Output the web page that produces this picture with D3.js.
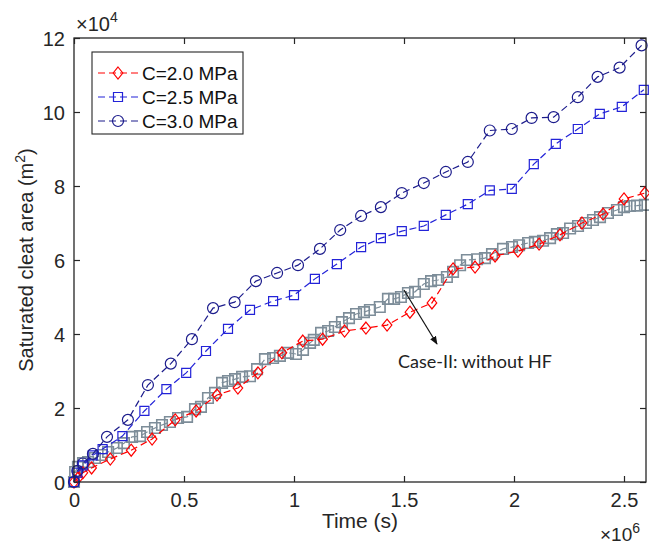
<!DOCTYPE html>
<html>
<head>
<meta charset="utf-8">
<script src="https://cdn.jsdelivr.net/npm/d3@7"></script>
<style>
  body { margin: 0; background: #fff; overflow: hidden; }
  svg { display: block; font-family: "Liberation Sans", Arial, sans-serif; }
</style>
</head>
<body>
<svg class="visSVG"></svg>
<script>
const svgWidth = 649;
const svgHeight = 545;

// time in units of 1e6 s, area in units of 1e4 m^2
const tC20 = [0, 0.02, 0.04, 0.08, 0.165, 0.26, 0.355, 0.46, 0.555, 0.65, 0.745, 0.836, 0.945, 1.04, 1.13, 1.23, 1.327, 1.423, 1.527, 1.627, 1.723, 1.823, 1.914, 2.018, 2.114, 2.209, 2.309, 2.405, 2.5, 2.595];
const aC20 = [0, 0.12, 0.25, 0.38, 0.62, 0.86, 1.16, 1.68, 1.92, 2.35, 2.54, 2.95, 3.49, 3.81, 3.86, 4.08, 4.16, 4.24, 4.59, 4.84, 5.76, 5.81, 6.11, 6.24, 6.43, 6.68, 7.0, 7.24, 7.65, 7.81];

const tC25 = [0, 0.015, 0.04, 0.085, 0.13, 0.22, 0.32, 0.42, 0.51, 0.60, 0.70, 0.80, 0.905, 1.0, 1.095, 1.195, 1.305, 1.395, 1.49, 1.59, 1.69, 1.79, 1.89, 1.99, 2.09, 2.19, 2.29, 2.39, 2.49, 2.59];
const aC25 = [0, 0.25, 0.45, 0.72, 0.89, 1.24, 1.92, 2.51, 2.95, 3.54, 4.14, 4.65, 4.89, 5.05, 5.49, 5.89, 6.35, 6.59, 6.78, 6.92, 7.22, 7.51, 7.88, 7.92, 8.59, 9.14, 9.54, 9.95, 10.14, 10.6];

const tC30 = [0, 0.015, 0.04, 0.086, 0.15, 0.245, 0.336, 0.44, 0.536, 0.632, 0.73, 0.827, 0.923, 1.018, 1.118, 1.21, 1.305, 1.395, 1.49, 1.59, 1.69, 1.79, 1.89, 1.99, 2.08, 2.18, 2.29, 2.38, 2.48, 2.58];
const aC30 = [0, 0.3, 0.5, 0.76, 1.22, 1.68, 2.62, 3.2, 3.86, 4.7, 4.86, 5.43, 5.65, 5.86, 6.3, 6.81, 7.19, 7.43, 7.81, 8.08, 8.38, 8.65, 9.5, 9.54, 9.84, 9.86, 10.4, 10.95, 11.2, 11.8];

const tCase2 = [0, 0.005, 0.018, 0.041, 0.064, 0.095, 0.127, 0.155, 0.195, 0.227, 0.264, 0.3, 0.332, 0.368, 0.4, 0.436, 0.473, 0.514, 0.55, 0.577, 0.609, 0.641, 0.673, 0.7, 0.732, 0.764, 0.8, 0.832, 0.868, 0.905, 0.936, 0.973, 1.009, 1.041, 1.073, 1.09, 1.123, 1.155, 1.186, 1.218, 1.25, 1.282, 1.318, 1.345, 1.39, 1.427, 1.455, 1.486, 1.518, 1.55, 1.59, 1.623, 1.655, 1.695, 1.723, 1.755, 1.786, 1.832, 1.868, 1.9, 1.95, 1.991, 2.023, 2.064, 2.095, 2.132, 2.164, 2.195, 2.223, 2.255, 2.291, 2.327, 2.359, 2.391, 2.427, 2.468, 2.5, 2.527, 2.559, 2.595];
const aCase2 = [0, 0.27, 0.41, 0.51, 0.54, 0.65, 0.73, 0.81, 0.92, 1.05, 1.22, 1.24, 1.35, 1.46, 1.54, 1.62, 1.73, 1.76, 1.97, 2.03, 2.27, 2.41, 2.68, 2.73, 2.78, 2.84, 2.86, 3.05, 3.32, 3.35, 3.41, 3.49, 3.46, 3.57, 3.76, 3.84, 4.03, 4.08, 4.19, 4.32, 4.43, 4.54, 4.59, 4.65, 4.73, 4.95, 4.95, 5.0, 5.11, 5.14, 5.35, 5.43, 5.46, 5.54, 5.68, 5.86, 6.0, 6.02, 6.05, 6.16, 6.3, 6.35, 6.4, 6.46, 6.49, 6.52, 6.59, 6.7, 6.73, 6.85, 6.92, 7.0, 7.08, 7.16, 7.27, 7.35, 7.43, 7.46, 7.47, 7.49];

const xTicks = [0, 0.5, 1, 1.5, 2, 2.5];
const yTicks = [0, 2, 4, 6, 8, 10, 12];
const legendNames = ["C=2.0 MPa", "C=2.5 MPa", "C=3.0 MPa"];

const margin = { top: 38, right: 3, bottom: 63, left: 74 };
const innerWidth = svgWidth - margin.left - margin.right;
const innerHeight = svgHeight - margin.top - margin.bottom;

const svg = d3.select('.visSVG')
    .attr("width", svgWidth)
    .attr("height", svgHeight);

const graph = svg.append("g")
    .attr("transform", "translate(" + margin.left + "," + margin.top + ")");

const xScale = d3.scaleLinear().domain([0, 2.6]).range([0, innerWidth]);
const yScale = d3.scaleLinear().domain([0, 12]).range([innerHeight, 0]);

const axisColor = "#262626";

function zip(ts, as) {
    return ts.map(function(t, i) { return { t: t, a: as[i] }; });
}

const series = [
    { name: "case2", data: zip(tCase2, aCase2), color: "#7d8d99", marker: "square", size: 10.5, width: 1.6 },
    { name: legendNames[0], data: zip(tC20, aC20), color: "#ff0000", marker: "diamond", size: 12, width: 1.2 },
    { name: legendNames[1], data: zip(tC25, aC25), color: "#2323d8", marker: "square", size: 9, width: 1.2 },
    { name: legendNames[2], data: zip(tC30, aC30), color: "#1c1c8c", marker: "circle", size: 11, width: 1.2 }
];

function markerPath(type, s) {
    const h = s / 2;
    if (type === "diamond") {
        const w = s * 0.4;
        return "M0," + (-h) + "L" + w + ",0L0," + h + "L" + (-w) + ",0Z";
    }
    if (type === "square") {
        return "M" + (-h) + "," + (-h) + "H" + h + "V" + h + "H" + (-h) + "Z";
    }
    return "M" + h + ",0A" + h + "," + h + " 0 1,1 " + (-h) + ",0A" + h + "," + h + " 0 1,1 " + h + ",0Z";
}

// AXES (MATLAB style box, ticks inward)

const xAxis = graph.append("g")
    .attr("transform", "translate(0," + innerHeight + ")")
    .call(d3.axisBottom(xScale).tickValues(xTicks).tickSizeInner(-6).tickSizeOuter(0).tickPadding(10)
        .tickFormat(function(d) { return d; }));
const xTop = graph.append("g")
    .call(d3.axisTop(xScale).tickValues(xTicks).tickSizeInner(-6).tickSizeOuter(0));
const yAxis = graph.append("g")
    .call(d3.axisLeft(yScale).tickValues(yTicks).tickSizeInner(-6).tickSizeOuter(0).tickPadding(9));
const yRight = graph.append("g")
    .attr("transform", "translate(" + innerWidth + ",0)")
    .call(d3.axisRight(yScale).tickValues(yTicks).tickSizeInner(-6).tickSizeOuter(0));

// top and right axes carry ticks only
xTop.selectAll("text").remove();
yRight.selectAll("text").remove();

[xAxis, xTop, yAxis, yRight].forEach(function(ax) {
    ax.select(".domain").remove();
    ax.attr("font-size", null).attr("font-family", null);
    ax.selectAll("line").attr("stroke", axisColor).attr("stroke-width", 1.2);
    ax.selectAll("text")
        .attr("fill", axisColor)
        .attr("font-size", 20);
});

// explicit baselines instead of dy offsets
xAxis.selectAll("text").attr("dy", null).attr("y", 25);
yAxis.selectAll("text").attr("dy", null).attr("y", 7);

// DATA

const line = d3.line()
    .x(function(d) { return xScale(d.t); })
    .y(function(d) { return yScale(d.a); });

series.forEach(function(s) {
    const g = graph.append("g").attr("class", "series");
    g.append("path")
        .datum(s.data)
        .attr("d", line)
        .attr("fill", "none")
        .attr("stroke", s.color)
        .attr("stroke-width", 1.2)
        .attr("stroke-dasharray", "7,4");
    g.selectAll("path.mk")
        .data(s.data).enter().append("path")
            .attr("class", "mk")
            .attr("transform", function(d) { return "translate(" + xScale(d.t) + "," + yScale(d.a) + ")"; })
            .attr("d", markerPath(s.marker, s.size))
            .attr("fill", "none")
            .attr("stroke", s.color)
            .attr("stroke-width", s.width);
});

// box
graph.append("rect")
    .attr("x", 0).attr("y", 0)
    .attr("width", innerWidth).attr("height", innerHeight)
    .attr("fill", "none")
    .attr("stroke", axisColor)
    .attr("stroke-width", 1.3);

// ANNOTATION

svg.append("defs").append("marker")
    .attr("id", "arrowHead")
    .attr("viewBox", "0 0 10 10")
    .attr("refX", 9).attr("refY", 5)
    .attr("markerWidth", 7).attr("markerHeight", 7)
    .attr("orient", "auto")
    .append("path")
        .attr("d", "M0,1L10,5L0,9Z")
        .attr("fill", "#111");

graph.append("line")
    .attr("x1", xScale(1.5)).attr("y1", yScale(5.19))
    .attr("x2", xScale(1.65)).attr("y2", yScale(3.73))
    .attr("stroke", "#111")
    .attr("stroke-width", 1.2)
    .attr("marker-end", "url(#arrowHead)");

graph.append("text")
    .attr("x", xScale(1.473)).attr("y", yScale(3.08))
    .text("Case-II: without HF")
    .attr("fill", "#222")
    .attr("font-family", "Lato, 'Open Sans', sans-serif")
    .attr("font-size", 18);

// LEGEND

const legend = svg.append("g").attr("transform", "translate(92,52)");
legend.append("rect")
    .attr("width", 151).attr("height", 82)
    .attr("fill", "#fff")
    .attr("stroke", axisColor)
    .attr("stroke-width", 1.1);

series.slice(1).forEach(function(s, i) {
    const row = legend.append("g").attr("transform", "translate(0," + (21 + i * 24) + ")");
    row.append("line")
        .attr("x1", 6).attr("x2", 46)
        .attr("stroke", s.color)
        .attr("stroke-width", 1.2)
        .attr("stroke-dasharray", "7,4");
    row.append("path")
        .attr("transform", "translate(26,0)")
        .attr("d", markerPath(s.marker, s.size))
        .attr("fill", "none")
        .attr("stroke", s.color)
        .attr("stroke-width", s.width);
    row.append("text")
        .attr("x", 50).attr("y", 7)
        .text(s.name)
        .attr("fill", "#111")
        .attr("font-size", 19);
});

// AXIS LABELS

svg.append("text")
    .attr("transform", "translate(33," + (margin.top + innerHeight / 2) + ") rotate(-90)")
    .attr("text-anchor", "middle")
    .attr("fill", axisColor)
    .attr("font-size", 20)
    .html("Saturated cleat area (m<tspan dy='-8' font-size='14'>2</tspan><tspan dy='8'>)</tspan>");

svg.append("text")
    .attr("x", margin.left + innerWidth / 2)
    .attr("y", 528)
    .attr("text-anchor", "middle")
    .attr("fill", axisColor)
    .attr("font-size", 21)
    .text("Time (s)");

svg.append("text")
    .attr("x", 76).attr("y", 31)
    .attr("fill", axisColor)
    .attr("font-size", 20)
    .html("×10<tspan dy='-9' font-size='14'>4</tspan>");

svg.append("text")
    .attr("x", 600).attr("y", 541)
    .attr("fill", axisColor)
    .attr("font-size", 19)
    .html("×10<tspan dy='-8' font-size='14'>6</tspan>");
</script>
</body>
</html>
